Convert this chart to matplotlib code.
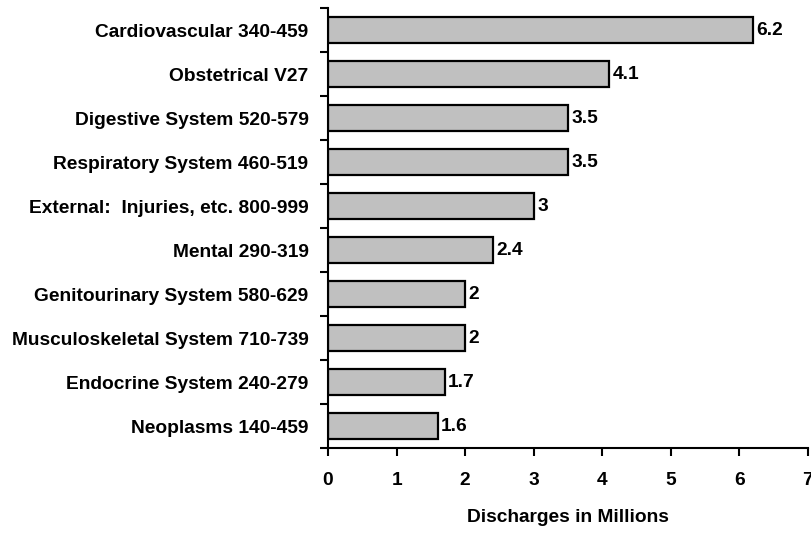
import matplotlib.pyplot as plt
import numpy as np

plt.rcParams['font.family'] = ['Liberation Sans', 'DejaVu Sans']
plt.rcParams['font.weight'] = 'bold'

# data (top to bottom)
categories = [
    'Cardiovascular 340-459',
    'Obstetrical V27',
    'Digestive System 520-579',
    'Respiratory System 460-519',
    'External:  Injuries, etc. 800-999',
    'Mental 290-319',
    'Genitourinary System 580-629',
    'Musculoskeletal System 710-739',
    'Endocrine System 240-279',
    'Neoplasms 140-459',
]
values = [6.2, 4.1, 3.5, 3.5, 3.0, 2.4, 2.0, 2.0, 1.7, 1.6]
value_labels = ['6.2', '4.1', '3.5', '3.5', '3', '2.4', '2', '2', '1.7', '1.6']

fig = plt.figure(figsize=(8.12, 5.34), dpi=100)
ax = fig.add_axes([0.404, 0.161, 0.591, 0.824])

y = np.arange(len(categories))[::-1]
ax.barh(y, values, height=0.58, color='#c0c0c0', edgecolor='black', linewidth=1.6)

for yi, v, lab in zip(y, values, value_labels):
    ax.text(v + 0.05, yi, lab, va='center', ha='left', fontsize=13.8, fontweight='bold')

ax.set_xlim(0, 7)
ax.set_ylim(-0.5, len(categories) - 0.5)
ax.set_xticks(range(8))
ax.set_yticks(y)
ax.set_yticklabels(categories, fontsize=13.8, fontweight='bold')
ax.set_yticks(np.arange(-0.5, len(categories)), minor=True)
ax.tick_params(axis='y', which='major', length=0, pad=14)
ax.tick_params(axis='y', which='minor', length=6, width=1.5, direction='out')
ax.tick_params(axis='x', length=5.5, width=1.5, direction='out', pad=12, labelsize=13.8)

for s in ['top', 'right']:
    ax.spines[s].set_visible(False)
for s in ['left', 'bottom']:
    ax.spines[s].set_linewidth(1.5)

ax.set_xlabel('Discharges in Millions', fontsize=13.8, fontweight='bold', labelpad=14)

plt.savefig('out.png', dpi=100)
